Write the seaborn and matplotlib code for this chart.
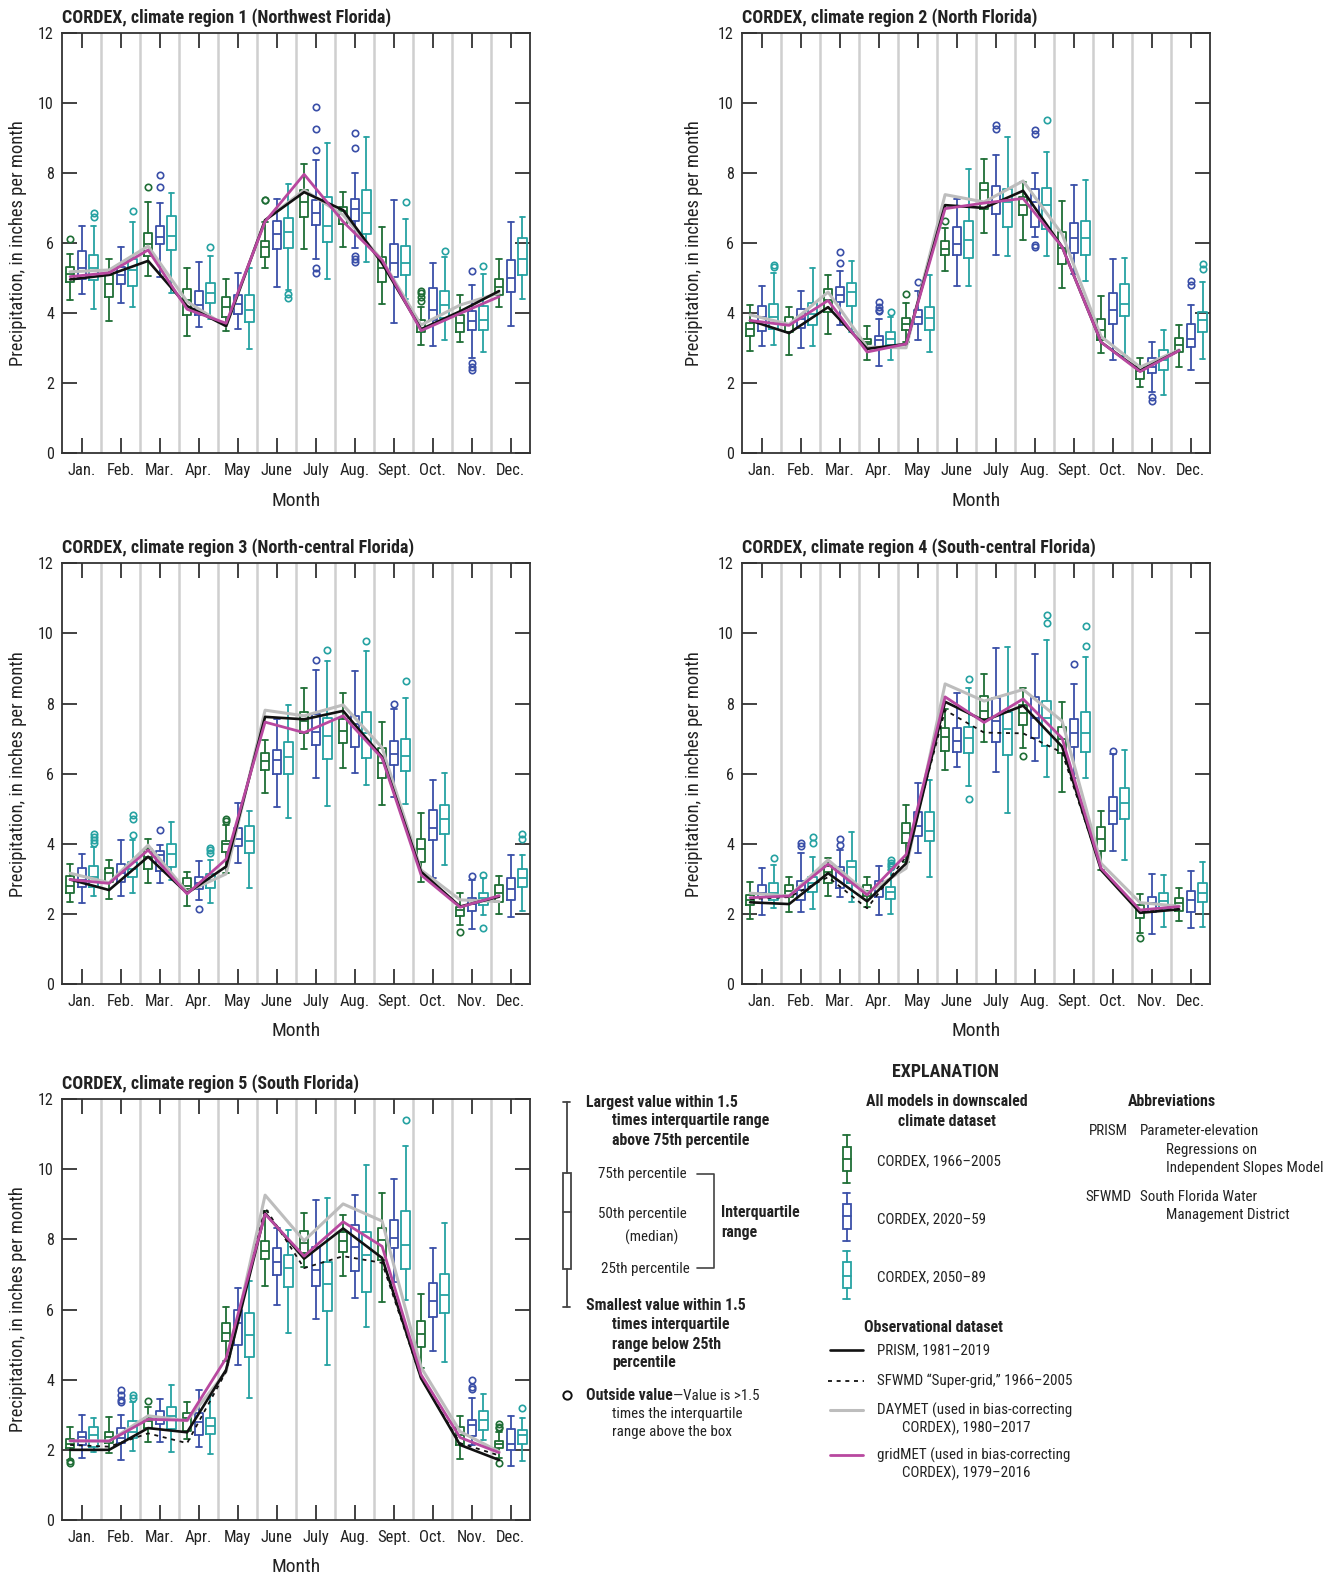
import numpy as np
import matplotlib
matplotlib.use("Agg")
import matplotlib.pyplot as plt
import matplotlib.font_manager as fm
from matplotlib.patches import Rectangle
import seaborn as sns

# ---------------------------------------------------------------- data
MONTHS = ["Jan.", "Feb.", "Mar.", "Apr.", "May", "June",
          "July", "Aug.", "Sept.", "Oct.", "Nov.", "Dec."]

TITLES = [
    "CORDEX, climate region 1 (Northwest Florida)",
    "CORDEX, climate region 2 (North Florida)",
    "CORDEX, climate region 3 (North-central Florida)",
    "CORDEX, climate region 4 (South-central Florida)",
    "CORDEX, climate region 5 (South Florida)",
]

# box statistics per month: [low whisker, 25th, median, 75th, high whisker]
R1_HIST = [[4.37, 4.88, 5.11, 5.32, 5.70], [3.78, 4.45, 4.82, 5.09, 5.53], [5.06, 5.63, 5.97, 6.29, 7.18],
           [3.35, 3.94, 4.37, 4.68, 5.28], [3.50, 3.90, 4.16, 4.45, 4.96], [5.28, 5.61, 5.89, 6.06, 6.61],
           [5.83, 6.73, 7.18, 7.51, 8.25], [5.89, 6.54, 6.92, 7.03, 7.45], [4.25, 4.90, 5.30, 5.61, 6.46],
           [3.09, 3.47, 3.69, 3.80, 4.16], [3.17, 3.45, 3.71, 3.94, 4.51], [4.18, 4.52, 4.75, 4.96, 5.53]]
R1_MID = [[4.54, 4.96, 5.28, 5.78, 6.48], [4.28, 4.82, 5.09, 5.32, 5.89], [5.04, 5.96, 6.18, 6.49, 7.13],
          [3.61, 3.94, 4.23, 4.63, 5.47], [3.56, 3.97, 4.26, 4.51, 5.13], [4.75, 5.84, 6.27, 6.63, 7.25],
          [5.55, 6.51, 6.87, 7.24, 8.37], [5.87, 6.62, 6.98, 7.26, 8.00], [3.73, 5.04, 5.44, 5.96, 7.24],
          [3.06, 3.80, 4.09, 4.71, 5.44], [2.71, 3.52, 3.78, 4.07, 4.80], [3.63, 4.61, 5.01, 5.51, 6.59]]
R1_LATE = [[4.12, 4.95, 5.30, 5.65, 6.48], [4.18, 4.77, 5.23, 5.53, 6.61], [4.56, 5.80, 6.20, 6.77, 7.43],
           [3.82, 4.28, 4.58, 4.85, 5.62], [2.97, 3.75, 4.09, 4.52, 5.30], [4.66, 5.85, 6.32, 6.72, 7.67],
           [4.96, 6.04, 6.49, 7.30, 8.84], [5.47, 6.25, 6.87, 7.51, 9.03], [4.39, 5.08, 5.44, 5.91, 6.69],
           [3.23, 3.87, 4.23, 4.64, 5.59], [2.90, 3.52, 3.80, 4.20, 5.11], [4.39, 5.10, 5.53, 6.13, 6.75]]
R1_HIST_OUT = {0: [6.10], 2: [7.60], 5: [7.22, 7.24], 9: [4.35, 4.45, 4.56, 4.64]}
R1_MID_OUT = {2: [7.60, 7.93], 6: [5.13, 5.30, 8.65, 9.26, 9.87], 7: [5.46, 5.53, 5.63, 8.71, 9.14],
              10: [2.38, 2.47, 2.57, 5.21]}
R1_LATE_OUT = {0: [6.75, 6.86], 1: [6.92], 3: [5.89], 5: [4.43, 4.54], 8: [7.17], 9: [5.78], 10: [5.34]}
R1_PRISM = [4.96, 5.09, 5.49, 4.20, 3.63, 6.65, 7.45, 6.94, 5.42, 3.54, 4.05, 4.63]
R1_DAYMET = [5.18, 5.23, 5.91, 4.33, 3.63, 6.65, 7.51, 6.80, 5.51, 3.66, 4.23, 4.57]
R1_GRIDMET = [5.04, 5.15, 5.80, 4.11, 3.71, 6.61, 7.96, 6.61, 5.51, 3.50, 3.99, 4.47]

R2_HIST = [[2.93, 3.36, 3.54, 3.71, 4.22], [2.81, 3.46, 3.70, 3.89, 4.17], [3.41, 4.02, 4.36, 4.70, 5.09],
           [2.67, 3.12, 3.18, 3.25, 3.63], [3.17, 3.52, 3.70, 3.86, 4.29], [5.20, 5.67, 5.84, 6.05, 6.44],
           [6.29, 6.98, 7.50, 7.70, 8.41], [6.08, 6.79, 7.08, 7.31, 7.74], [4.72, 5.41, 5.87, 6.30, 7.20],
           [2.86, 3.22, 3.52, 3.82, 4.48], [1.89, 2.12, 2.36, 2.48, 2.71], [2.46, 2.90, 3.10, 3.29, 3.65]]
R2_MID = [[3.06, 3.49, 3.89, 4.21, 4.77], [3.00, 3.58, 3.84, 4.11, 4.63], [3.67, 4.31, 4.52, 4.74, 5.20],
          [2.50, 2.98, 3.22, 3.35, 3.84], [3.22, 3.70, 3.90, 4.10, 4.63], [4.76, 5.67, 5.98, 6.46, 7.25],
          [5.65, 6.82, 7.17, 7.63, 8.50], [6.17, 6.46, 7.17, 7.55, 8.00], [5.12, 5.72, 6.15, 6.58, 7.65],
          [2.65, 3.70, 4.08, 4.57, 5.55], [1.74, 2.29, 2.46, 2.71, 3.17], [2.39, 3.03, 3.27, 3.70, 4.24]]
R2_LATE = [[3.10, 3.55, 3.90, 4.25, 5.15], [3.07, 3.65, 3.98, 4.29, 5.30], [3.46, 4.20, 4.60, 4.86, 5.49],
           [2.67, 3.08, 3.27, 3.45, 3.89], [2.89, 3.52, 3.86, 4.17, 5.10], [4.76, 5.58, 6.08, 6.62, 8.11],
           [5.62, 6.46, 7.17, 7.55, 9.03], [5.62, 6.41, 7.08, 7.57, 8.60], [4.91, 5.67, 6.15, 6.63, 7.81],
           [2.79, 3.93, 4.25, 4.84, 5.57], [1.65, 2.38, 2.65, 2.96, 3.52], [2.70, 3.46, 3.81, 4.02, 4.89]]
R2_HIST_OUT = {4: [4.55], 5: [6.62]}
R2_MID_OUT = {2: [5.43, 5.75], 3: [4.06, 4.10, 4.17, 4.31], 4: [4.89], 6: [9.24, 9.36],
              7: [5.89, 5.95, 9.12, 9.22], 10: [1.50, 1.62], 11: [4.79, 4.93]}
R2_LATE_OUT = {0: [5.31, 5.38], 3: [4.04], 7: [9.50], 11: [5.27, 5.39]}
R2_PRISM = [3.79, 3.43, 4.17, 2.98, 3.12, 7.08, 7.00, 7.49, 5.89, 3.17, 2.36, 2.93]
R2_DAYMET = [3.95, 3.68, 4.60, 3.03, 3.01, 7.38, 7.17, 7.77, 6.25, 3.33, 2.46, 2.95]
R2_GRIDMET = [3.79, 3.65, 4.36, 2.89, 3.12, 6.98, 7.14, 7.27, 5.89, 3.17, 2.33, 2.93]

R3_HIST = [[2.33, 2.59, 2.79, 3.08, 3.41], [2.42, 2.92, 3.17, 3.32, 3.54], [2.87, 3.28, 3.63, 3.84, 4.13],
           [2.22, 2.70, 2.79, 3.03, 3.20], [3.16, 3.77, 3.99, 4.08, 4.53], [5.44, 6.10, 6.37, 6.58, 6.96],
           [6.69, 7.15, 7.50, 7.77, 8.43], [6.17, 6.88, 7.22, 7.55, 8.29], [5.10, 5.87, 6.31, 6.72, 7.48],
           [2.90, 3.48, 3.84, 4.15, 4.87], [1.68, 1.94, 2.11, 2.21, 2.60], [2.00, 2.35, 2.59, 2.81, 3.08]]
R3_MID = [[2.30, 2.76, 2.98, 3.30, 3.70], [2.51, 2.90, 3.16, 3.41, 4.11], [2.87, 3.22, 3.68, 3.79, 3.96],
          [2.41, 2.70, 2.87, 3.06, 3.52], [3.46, 3.94, 4.13, 4.44, 5.15], [5.06, 5.98, 6.39, 6.67, 7.55],
          [5.89, 6.81, 7.20, 7.70, 8.95], [6.03, 6.77, 7.41, 7.65, 8.94], [5.34, 6.26, 6.56, 6.94, 7.83],
          [3.01, 4.11, 4.46, 4.96, 5.82], [1.56, 2.08, 2.27, 2.46, 2.97], [1.92, 2.41, 2.70, 3.03, 3.67]]
R3_LATE = [[2.51, 2.76, 3.06, 3.37, 3.92], [2.59, 3.06, 3.27, 3.49, 4.11], [2.97, 3.33, 3.71, 3.99, 4.61],
           [2.32, 2.73, 2.97, 3.14, 3.54], [2.73, 3.73, 4.09, 4.51, 4.93], [4.74, 5.98, 6.48, 6.89, 7.95],
           [5.08, 6.41, 7.08, 7.60, 9.21], [5.67, 6.44, 7.15, 7.75, 9.50], [5.13, 6.08, 6.50, 7.00, 8.15],
           [3.39, 4.29, 4.72, 5.12, 6.01], [1.97, 2.25, 2.44, 2.59, 3.01], [2.08, 2.76, 3.03, 3.27, 3.68]]
R3_HIST_OUT = {4: [4.66, 4.72], 10: [1.47]}
R3_MID_OUT = {2: [4.39], 3: [2.13], 6: [9.24], 8: [8.00], 10: [3.08]}
R3_LATE_OUT = {0: [4.03, 4.11, 4.18, 4.27], 1: [4.25, 4.70, 4.82], 3: [3.75, 3.82, 3.89], 6: [9.54],
               7: [9.78], 8: [8.64], 10: [1.59, 3.11], 11: [4.13, 4.27]}
R3_PRISM = [2.98, 2.68, 3.63, 2.59, 3.35, 7.62, 7.55, 7.79, 6.48, 3.20, 2.21, 2.49]
R3_DAYMET = [3.16, 2.89, 3.96, 2.63, 3.14, 7.81, 7.65, 7.96, 6.74, 3.25, 2.40, 2.35]
R3_GRIDMET = [2.98, 2.87, 3.82, 2.57, 3.56, 7.47, 7.17, 7.65, 6.44, 3.11, 2.19, 2.52]

R4_HIST = [[1.84, 2.24, 2.40, 2.54, 2.92], [2.06, 2.49, 2.66, 2.82, 3.06], [2.51, 2.89, 3.20, 3.37, 3.58],
           [2.21, 2.51, 2.66, 2.81, 3.06], [3.49, 4.03, 4.32, 4.60, 5.10], [6.10, 6.64, 7.05, 7.31, 7.83],
           [6.89, 7.55, 7.79, 8.21, 8.84], [6.73, 7.40, 7.72, 7.97, 8.44], [5.48, 6.58, 7.00, 7.34, 8.03],
           [3.25, 3.80, 4.13, 4.49, 4.94], [1.46, 1.89, 2.11, 2.25, 2.57], [1.80, 2.08, 2.30, 2.44, 2.73]]
R4_MID = [[1.97, 2.49, 2.59, 2.82, 3.30], [2.04, 2.40, 2.68, 2.95, 3.75], [2.49, 2.75, 3.23, 3.35, 3.82],
          [1.97, 2.47, 2.79, 2.95, 3.37], [3.73, 4.22, 4.51, 4.91, 5.74], [6.18, 6.61, 6.94, 7.31, 8.29],
          [6.06, 6.89, 7.51, 8.15, 9.57], [6.37, 7.01, 7.60, 8.19, 9.41], [5.87, 6.77, 7.15, 7.56, 8.57],
          [3.79, 4.55, 4.94, 5.34, 6.56], [1.44, 2.06, 2.32, 2.49, 3.14], [1.59, 2.06, 2.40, 2.66, 3.23]]
R4_LATE = [[2.16, 2.41, 2.60, 2.87, 3.39], [2.13, 2.63, 2.87, 3.06, 3.63], [2.33, 2.87, 3.35, 3.52, 4.34],
           [2.00, 2.42, 2.63, 2.78, 3.25], [3.06, 4.08, 4.36, 4.90, 5.82], [5.65, 6.60, 7.03, 7.34, 8.45],
           [4.89, 6.53, 7.27, 7.75, 9.62], [5.91, 6.78, 7.60, 8.06, 9.81], [5.88, 6.63, 7.15, 7.75, 9.33],
           [3.54, 4.72, 5.15, 5.58, 6.67], [1.63, 2.13, 2.38, 2.60, 3.11], [1.62, 2.33, 2.60, 2.87, 3.49]]
R4_HIST_OUT = {7: [6.49], 10: [1.30]}
R4_MID_OUT = {1: [3.94, 4.01], 2: [3.96, 4.13], 8: [9.14], 9: [6.64]}
R4_LATE_OUT = {0: [3.58], 1: [4.03, 4.18], 3: [3.33, 3.39, 3.46, 3.54], 5: [5.29, 8.69],
               7: [10.31, 10.52], 8: [9.64, 10.22]}
R4_PRISM = [2.33, 2.28, 3.16, 2.36, 3.44, 8.05, 7.51, 7.94, 6.77, 3.25, 2.03, 2.13]
R4_SFWMD = [2.42, 2.48, 3.05, 2.16, 3.63, 7.81, 7.17, 7.15, 6.60, 3.30, 2.06, 2.16]
R4_DAYMET = [2.59, 2.51, 3.54, 2.59, 3.30, 8.56, 8.07, 8.40, 7.50, 3.44, 2.32, 2.22]
R4_GRIDMET = [2.46, 2.51, 3.42, 2.54, 3.69, 8.19, 7.46, 8.13, 7.01, 3.30, 2.11, 2.21]

R5_HIST = [[1.71, 2.05, 2.16, 2.30, 2.65], [1.90, 2.19, 2.38, 2.52, 2.93], [2.22, 2.62, 2.81, 2.92, 3.21],
           [2.31, 2.55, 2.90, 3.06, 3.36], [4.52, 5.11, 5.33, 5.61, 6.06], [6.68, 7.45, 7.66, 7.96, 8.82],
           [7.20, 7.60, 7.90, 8.25, 8.74], [6.96, 7.64, 7.94, 8.20, 8.69], [6.21, 7.40, 7.99, 8.31, 9.32],
           [4.33, 4.92, 5.30, 5.68, 6.44], [1.73, 2.14, 2.43, 2.64, 2.97], [1.76, 2.05, 2.16, 2.25, 2.52]]
R5_MID = [[1.76, 2.14, 2.38, 2.50, 2.98], [1.71, 2.19, 2.33, 2.62, 3.00], [2.22, 2.73, 2.95, 3.12, 3.44],
          [2.07, 2.43, 2.79, 3.04, 3.71], [4.41, 4.98, 5.61, 5.98, 6.61], [6.12, 6.99, 7.35, 7.74, 8.33],
          [5.73, 6.68, 7.12, 7.78, 9.11], [6.33, 7.09, 7.78, 8.42, 9.25], [6.78, 7.75, 8.04, 8.56, 9.72],
          [4.83, 5.78, 6.25, 6.75, 7.75], [2.14, 2.40, 2.71, 2.85, 3.49], [1.55, 2.00, 2.16, 2.59, 2.97]]
R5_LATE = [[1.95, 2.09, 2.41, 2.66, 2.92], [1.98, 2.33, 2.52, 2.81, 3.36], [1.95, 2.59, 2.97, 3.22, 3.85],
           [1.87, 2.45, 2.69, 2.90, 3.55], [3.49, 4.66, 5.26, 5.90, 6.82], [5.33, 6.64, 7.18, 7.55, 8.28],
           [4.42, 5.95, 6.74, 7.35, 9.18], [5.51, 6.49, 7.55, 8.20, 10.13], [6.28, 7.15, 7.85, 8.82, 10.66],
           [4.50, 5.89, 6.42, 7.01, 8.47], [2.28, 2.57, 2.85, 3.11, 3.60], [1.67, 2.17, 2.41, 2.57, 2.90]]
R5_HIST_OUT = {0: [1.62, 1.67], 2: [3.38], 11: [1.62, 2.62, 2.66, 2.73]}
R5_MID_OUT = {1: [3.36, 3.43, 3.57, 3.71], 10: [3.74, 3.78, 4.00]}
R5_LATE_OUT = {1: [3.49, 3.57], 8: [11.39], 11: [3.19]}
R5_PRISM = [2.00, 2.00, 2.62, 2.50, 4.28, 8.75, 7.45, 8.31, 7.47, 4.04, 2.14, 1.71]
R5_SFWMD = [2.14, 2.09, 2.47, 2.19, 4.23, 8.90, 7.18, 7.52, 7.33, 4.04, 2.19, 1.84]
R5_DAYMET = [2.25, 2.25, 2.97, 2.83, 4.23, 9.26, 7.96, 9.01, 8.52, 4.35, 2.52, 1.95]
R5_GRIDMET = [2.26, 2.25, 2.87, 2.84, 4.61, 8.72, 7.52, 8.50, 7.80, 4.14, 2.35, 1.92]

# ---------------------------------------------------------------- style
GREEN, BLUE, TEAL = "#1f6e36", "#3a4fa8", "#26a2a2"
BLACK, GRAY, MAGENTA = "#111111", "#bdbdbd", "#b8489f"
FRAME = "#333333"

sns.set_theme(style="ticks")
avail = {f.name for f in fm.fontManager.ttflist}
FONT = next((f for f in ["Liberation Sans Narrow", "Roboto Condensed", "Open Sans Condensed",
                         "Liberation Sans"] if f in avail), "DejaVu Sans")
plt.rcParams["font.family"] = [FONT, "DejaVu Sans"]
plt.rcParams["axes.linewidth"] = 1.3

W, H = 1342, 1576
fig = plt.figure(figsize=(W / 100, H / 100), dpi=100)


def px_axes(left, right, top, bottom):
    return fig.add_axes([left / W, 1 - bottom / H, (right - left) / W, (bottom - top) / H])


# legend canvas in pixel coordinates (added first so it stays underneath)
leg = fig.add_axes([0, 0, 1, 1])
leg.set_xlim(0, W)
leg.set_ylim(H, 0)
leg.axis("off")
leg.patch.set_visible(False)

PANELS = [
    (62.3, 530.3, 32.7, 453.3),
    (742.3, 1210.3, 32.7, 453.3),
    (62.3, 530.3, 563.3, 984.0),
    (742.3, 1210.3, 563.3, 984.0),
    (62.3, 530.3, 1099.0, 1520.0),
]
YLABEL_X = [-0.075, -0.083, -0.075, -0.083, -0.075]

BOXES = [
    ((R1_HIST, R1_HIST_OUT), (R1_MID, R1_MID_OUT), (R1_LATE, R1_LATE_OUT)),
    ((R2_HIST, R2_HIST_OUT), (R2_MID, R2_MID_OUT), (R2_LATE, R2_LATE_OUT)),
    ((R3_HIST, R3_HIST_OUT), (R3_MID, R3_MID_OUT), (R3_LATE, R3_LATE_OUT)),
    ((R4_HIST, R4_HIST_OUT), (R4_MID, R4_MID_OUT), (R4_LATE, R4_LATE_OUT)),
    ((R5_HIST, R5_HIST_OUT), (R5_MID, R5_MID_OUT), (R5_LATE, R5_LATE_OUT)),
]
LINES = [
    (R1_PRISM, None, R1_DAYMET, R1_GRIDMET),
    (R2_PRISM, None, R2_DAYMET, R2_GRIDMET),
    (R3_PRISM, None, R3_DAYMET, R3_GRIDMET),
    (R4_PRISM, R4_SFWMD, R4_DAYMET, R4_GRIDMET),
    (R5_PRISM, R5_SFWMD, R5_DAYMET, R5_GRIDMET),
]

pos = np.arange(12)
OFFSETS = [-0.3, 0.0, 0.3]
COLORS = [GREEN, BLUE, TEAL]


def box_stats(arr, outs):
    stats = []
    for i, (lo, q1, med, q3, hi) in enumerate(arr):
        stats.append(dict(whislo=lo, q1=q1, med=med, q3=q3, whishi=hi,
                          fliers=outs.get(i, [])))
    return stats


for k, (title, rect) in enumerate(zip(TITLES, PANELS)):
    ax = px_axes(*rect)
    for b in np.arange(0.5, 11.5, 1.0):
        ax.axvline(b, color="#cfcfcf", lw=1.8, zorder=0)

    for (arr, outs), off, c in zip(BOXES[k], OFFSETS, COLORS):
        lp = dict(color=c, lw=1.3)
        ax.bxp(box_stats(arr, outs), positions=pos + off, widths=0.21, capwidths=0.15,
               manage_ticks=False, boxprops=lp, whiskerprops=lp, capprops=lp,
               medianprops=lp,
               flierprops=dict(marker="o", mfc="none", mec=c, ms=4.6, mew=1.2),
               zorder=2)

    prism, sfwmd, daymet, gridmet = LINES[k]
    xl = pos - 0.3
    sns.lineplot(x=xl, y=daymet, ax=ax, color=GRAY, lw=2.2, zorder=3, legend=False)
    sns.lineplot(x=xl, y=prism, ax=ax, color=BLACK, lw=1.9, zorder=4, legend=False)
    if sfwmd is not None:
        sns.lineplot(x=xl, y=sfwmd, ax=ax, color=BLACK, lw=1.3, zorder=4, legend=False,
                     linestyle=(0, (2.2, 2.6)))
    sns.lineplot(x=xl, y=gridmet, ax=ax, color=MAGENTA, lw=2.0, zorder=5, legend=False)

    ax.set_xlim(-0.5, 11.5)
    ax.set_ylim(0, 12)
    ax.set_xticks(pos)
    ax.set_xticklabels(MONTHS)
    ax.set_yticks(np.arange(0, 13, 2))
    ax.tick_params(axis="both", direction="in", length=11, width=1.3, color=FRAME,
                   top=True, right=True, labelcolor="#222222")
    ax.tick_params(axis="x", pad=7, labelsize=12)
    ax.tick_params(axis="y", pad=6, labelsize=11.5)
    for s in ax.spines.values():
        s.set_color(FRAME)
        s.set_linewidth(1.3)
    ax.set_xlabel("Month", fontsize=14, color="#222222")
    ax.set_ylabel("Precipitation, in inches per month", fontsize=13.3, color="#222222")
    ax.xaxis.set_label_coords(0.5, -0.091)
    ax.yaxis.set_label_coords(YLABEL_X[k], 0.5)
    ax.set_title(title, loc="left", fontweight="bold", fontsize=13, pad=7.2, color="#222222")

# ---------------------------------------------------------------- explanation
TXT = "#222222"
FS = 10.8
FSB = 11.4


def t(x, y, s, bold=False, ha="left", size=None):
    if size is None:
        size = FSB if bold else FS
    return leg.text(x, y, s, ha=ha, va="center", fontsize=size,
                    fontweight="bold" if bold else "normal", color=TXT)


def glyph(x, cap_top, box_top, med, box_bot, cap_bot, color, w=8, cw=7, lw=1.3):
    leg.plot([x, x], [cap_top, box_top], color=color, lw=lw)
    leg.plot([x, x], [box_bot, cap_bot], color=color, lw=lw)
    leg.plot([x - cw / 2, x + cw / 2], [cap_top, cap_top], color=color, lw=lw)
    leg.plot([x - cw / 2, x + cw / 2], [cap_bot, cap_bot], color=color, lw=lw)
    leg.add_patch(Rectangle((x - w / 2, box_top), w, box_bot - box_top, fill=False,
                            ec=color, lw=lw))
    leg.plot([x - w / 2, x + w / 2], [med, med], color=color, lw=lw)


# schematic box
glyph(566.7, 1102.3, 1173.3, 1212.3, 1269.0, 1307.3, "#444444")
t(586, 1102, "Largest value within 1.5", bold=True)
t(612, 1121, "times interquartile range", bold=True)
t(612, 1140, "above 75th percentile", bold=True)
t(598, 1174, "75th percentile")
t(598, 1214, "50th percentile")
t(652, 1237, "(median)", ha="center")
t(601, 1269, "25th percentile")
leg.plot([697, 714, 714, 697], [1174, 1174, 1268, 1268], color="#444444", lw=1.2)
t(721, 1212, "Interquartile", bold=True)
t(721, 1233, "range", bold=True)
t(586, 1306, "Smallest value within 1.5", bold=True)
t(612, 1325, "times interquartile", bold=True)
t(612, 1344, "range below 25th", bold=True)
t(612, 1362, "percentile", bold=True)
leg.plot([566.7], [1395], marker="o", mfc="none", mec="#111111", ms=6, mew=1.4)
ov = leg.text(586, 1395, "Outside value", ha="left", va="center", fontsize=FSB,
              fontweight="bold", color=TXT)
leg.annotate("\u2014Value is >1.5", xy=(1, 0), xycoords=ov, ha="left", va="bottom",
             fontsize=FS, color=TXT)
t(612, 1414, "times the interquartile")
t(612, 1432, "range above the box")

# explanation header and model boxes
t(945, 1072, "EXPLANATION", bold=True, ha="center", size=13)
t(946.7, 1102, "All models in downscaled", bold=True, ha="center")
t(946.7, 1121, "climate dataset", bold=True, ha="center")
glyph(846.7, 1135.0, 1146.7, 1159.0, 1171.0, 1182.7, GREEN)
t(876.7, 1161, "CORDEX, 1966\u20132005")
glyph(846.7, 1192.7, 1204.3, 1215.7, 1229.3, 1240.7, BLUE)
t(876.7, 1219, "CORDEX, 2020\u201359")
glyph(846.7, 1251.0, 1262.3, 1276.0, 1288.0, 1299.0, TEAL)
t(876.7, 1277, "CORDEX, 2050\u201389")

t(933, 1327, "Observational dataset", bold=True, ha="center")
leg.plot([830, 862.7], [1350, 1350], color=BLACK, lw=1.9)
t(876.7, 1350, "PRISM, 1981\u20132019")
leg.plot([828, 864], [1381, 1381], color=BLACK, lw=1.3, linestyle=(0, (2.2, 2.6)))
t(876.7, 1381, "SFWMD \u201cSuper-grid,\u201d 1966\u20132005")
leg.plot([830, 862.7], [1410, 1410], color=GRAY, lw=2.2)
t(876.7, 1410, "DAYMET (used in bias-correcting")
t(902, 1428, "CORDEX), 1980\u20132017")
leg.plot([830, 862.7], [1455, 1455], color=MAGENTA, lw=2.0)
t(876.7, 1455, "gridMET (used in bias-correcting")
t(902, 1473, "CORDEX), 1979\u20132016")

# abbreviations
t(1172, 1102, "Abbreviations", bold=True, ha="center")
t(1128, 1131, "PRISM", ha="right")
t(1140, 1131, "Parameter-elevation")
t(1166, 1150, "Regressions on")
t(1166, 1168, "Independent Slopes Model")
t(1132, 1197, "SFWMD", ha="right")
t(1140, 1197, "South Florida Water")
t(1166, 1215, "Management District")

fig.savefig("out.png", dpi=100)
